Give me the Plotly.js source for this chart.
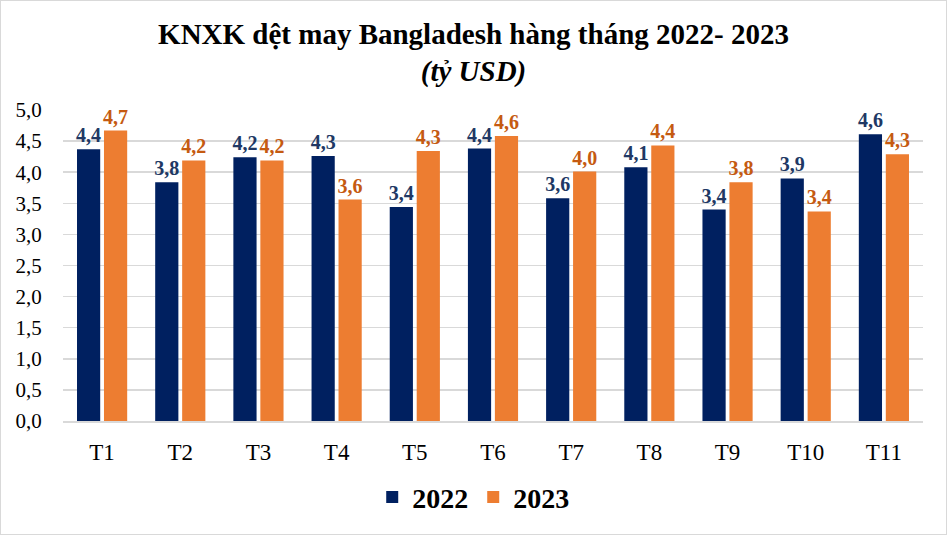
<!DOCTYPE html>
<html>
<head>
<meta charset="utf-8">
<script src="https://cdn.plot.ly/plotly-3.0.1.min.js"></script>
<style>
html,body{margin:0;padding:0;background:#d9d9d9;}
#chart{position:absolute;left:1px;top:1px;width:945px;height:533px;background:#fff;}
</style>
</head>
<body>
<div id="chart"></div>
<script>
const months = ["T1","T2","T3","T4","T5","T6","T7","T8","T9","T10","T11"];
const values2022 = [4.37, 3.84, 4.24, 4.26, 3.44, 4.38, 3.58, 4.08, 3.40, 3.90, 4.61];
const values2023 = [4.67, 4.19, 4.19, 3.56, 4.34, 4.58, 4.01, 4.43, 3.84, 3.37, 4.29];
const seriesNames = ["2022", "2023"];
const yTicks = [0, 0.5, 1, 1.5, 2, 2.5, 3, 3.5, 4, 4.5, 5];

const serif = "Liberation Serif, Times New Roman, serif";
const labelFont = (c) => ({family: serif, size: 20, color: c, weight: "bold"});

const traces = [
  {type: "bar", name: seriesNames[0], x: months, y: values2022,
   marker: {color: "#002060"}, texttemplate: "%{y:.1f}", textposition: "outside",
   textfont: labelFont("#203864"), cliponaxis: false, constraintext: "none", hoverinfo: "skip"},
  {type: "bar", name: seriesNames[1], x: months, y: values2023,
   marker: {color: "#ED7D31"}, texttemplate: "%{y:.1f}", textposition: "outside",
   textfont: labelFont("#C55A11"), cliponaxis: false, constraintext: "none", hoverinfo: "skip"}
];

const layout = {
  width: 945, height: 533,
  margin: {l: 62, r: 23, t: 109, b: 113, pad: 0},
  paper_bgcolor: "#ffffff", plot_bgcolor: "#ffffff",
  separators: ", ",
  font: {family: serif, color: "#000"},
  title: {
    text: "KNXK dệt may Bangladesh hàng tháng 2022- 2023<br><i>(tỷ USD)</i>",
    font: {family: serif, size: 29, color: "#000", weight: "bold"},
    x: 0.5, xanchor: "center", xref: "container",
    y: 0.92, yanchor: "top", yref: "container"
  },
  barmode: "group", bargap: 0.31, bargroupgap: 0.14,
  xaxis: {
    tickfont: {family: serif, size: 23, color: "#000"},
    ticks: "outside", ticklen: 10, tickcolor: "rgba(0,0,0,0)",
    showline: true, linecolor: "#d9d9d9", linewidth: 1.5,
    showgrid: false, fixedrange: true
  },
  yaxis: {
    range: [0, 5], tickvals: yTicks, tickformat: ".1f",
    tickfont: {family: serif, size: 21, color: "#000"},
    ticks: "outside", ticklen: 16, tickcolor: "rgba(0,0,0,0)",
    showgrid: true, gridcolor: "#d9d9d9", gridwidth: 1.5,
    zeroline: false, showline: false, fixedrange: true
  },
  showlegend: true,
  legend: {
    orientation: "h", x: 0.477, xanchor: "center", y: -0.245, yanchor: "middle",
    font: {family: serif, size: 28, color: "#000", weight: "bold"},
    itemwidth: 30, traceorder: "normal"
  }
};

Plotly.newPlot("chart", traces, layout, {displayModeBar: false, staticPlot: true});
</script>
</body>
</html>
